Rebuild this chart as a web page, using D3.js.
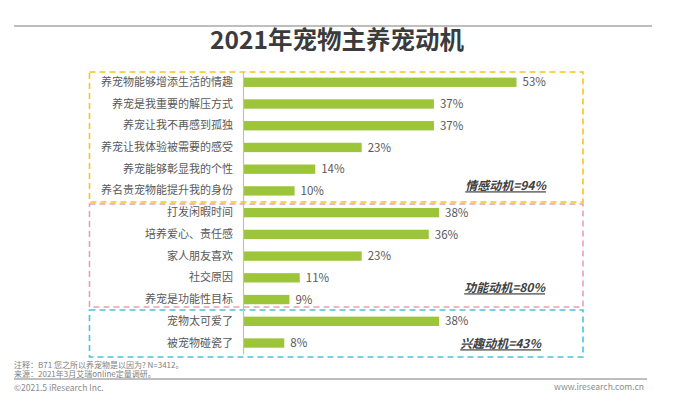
<!DOCTYPE html>
<html><head><meta charset="utf-8">
<script src="https://cdn.jsdelivr.net/npm/d3@7/dist/d3.min.js"></script>
<style>
body{margin:0;background:#fff;}
svg{display:block;font-family:"Noto Sans CJK SC","Noto Sans",sans-serif;}
</style></head>
<body><svg id="c" width="698" height="412"></svg>
<script>
const title = "2021年宠物主养宠动机";
const categories = ["养宠物能够增添生活的情趣","养宠是我重要的解压方式","养宠让我不再感到孤独","养宠让我体验被需要的感受","养宠能够彰显我的个性","养名贵宠物能提升我的身份",
  "打发闲暇时间","培养爱心、责任感","家人朋友喜欢","社交原因","养宠是功能性目标",
  "宠物太可爱了","被宠物碰瓷了"];
const values = [53,37,37,23,14,10,38,36,23,11,9,38,8];
const groupNames = ["情感动机=94%","功能动机=80%","兴趣动机=43%"];
const groupColors = ["#f5c51c","#e8a1b3","#4cc3d8"];
const notes = ["注释：B71 您之所以养宠物是以因为? N=3412。","来源：2021年3月艾瑞online定量调研。"];
const copyright = "©2021.5 iResearch Inc.";
const site = "www.iresearch.com.cn";

const svg = d3.select("#c");
const x = d3.scaleLinear().domain([0,53]).range([243,516.5]);
const y = d3.scaleBand().domain(categories).range([71.4,353.9]).paddingInner(0.57).paddingOuter(0.285);

// top line
svg.append("line").attr("x1",14).attr("x2",652).attr("y1",26).attr("y2",26).attr("stroke","#7f7f7f").attr("stroke-width",1.2);
svg.append("text").attr("x",337).attr("y",49).attr("text-anchor","middle").attr("font-size",24.5).attr("font-weight","bold").attr("fill","#3b3b3b").text(title);

// group boxes
const boxY = [[72,202],[204,307],[310,357]];
groupNames.forEach((g,i)=>{
  svg.append("rect").attr("x",89.5).attr("y",boxY[i][0]).attr("width",493.5).attr("height",boxY[i][1]-boxY[i][0])
    .attr("fill","none").attr("stroke",groupColors[i]).attr("stroke-width",1.6).attr("stroke-dasharray","6,4");
});

// bars
svg.append("g").selectAll("rect").data(categories).join("rect")
  .attr("x",x(0)).attr("y",d=>y(d)).attr("width",(d,i)=>x(values[i])-x(0)).attr("height",y.bandwidth())
  .attr("fill","#9dc53a");

svg.append("g").selectAll("text").data(categories).join("text")
  .attr("x",(d,i)=>x(values[i])+6).attr("y",d=>y(d)+y.bandwidth()/2).attr("dy","0.36em")
  .attr("font-size",11.5).attr("fill","#595959").text((d,i)=>values[i]+"%");

// axis
const ax = svg.append("g").attr("transform",`translate(${x(0)},0)`).call(d3.axisLeft(y).tickSize(0).tickPadding(10));
ax.select(".domain").attr("stroke","#bfbfbf").attr("stroke-width",1.2);
ax.selectAll("text").attr("font-size",11).attr("fill","#595959").attr("font-family",'"Noto Sans CJK SC",sans-serif');

// group labels
const gl = [[546,186],[545,288],[541,344]];
groupNames.forEach((g,i)=>{
  svg.append("text").attr("x",gl[i][0]).attr("y",gl[i][1]).attr("dy","0.36em").attr("text-anchor","end")
    .attr("font-size",12).attr("font-weight","bold").attr("font-style","italic").attr("fill","#404040")
    .attr("text-decoration","underline").text(g);
});

// footer
notes.forEach((n,i)=>{
  svg.append("text").attr("x",14).attr("y",365+i*9.5).attr("dy","0.35em").attr("font-size",8).attr("fill","#7f7f7f").text(n);
});
svg.append("line").attr("x1",14).attr("x2",647).attr("y1",379).attr("y2",379).attr("stroke","#7f7f7f").attr("stroke-width",1);
svg.append("text").attr("x",14).attr("y",388).attr("dy","0.35em").attr("font-size",8.5).attr("fill","#8c8c8c").text(copyright);
svg.append("text").attr("x",644).attr("y",387).attr("dy","0.35em").attr("text-anchor","end").attr("font-size",8.5).attr("fill","#8c8c8c").text(site);
</script></body></html>
